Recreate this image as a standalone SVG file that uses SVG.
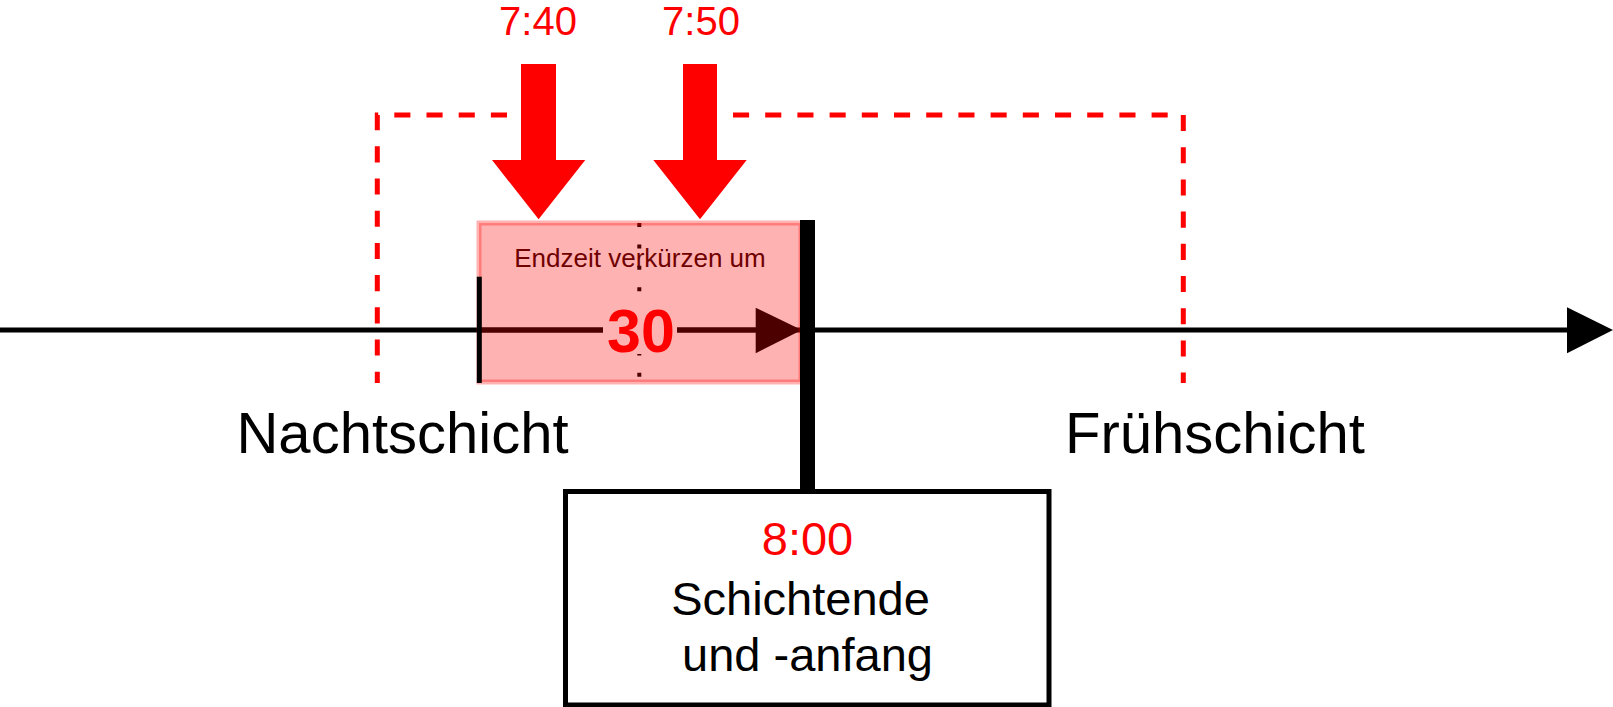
<svg xmlns="http://www.w3.org/2000/svg" width="1613" height="707" viewBox="0 0 1613 707">
<style>
  text { font-family: "Liberation Sans", Arial, sans-serif; }
  .dash { fill: none; stroke: #ff0000; stroke-width: 5; stroke-dasharray: 16.1 16.1; }
  .red { fill: #ff0000; }
  .blk { fill: #000000; }
  .ln { stroke: #000000; stroke-width: 5; fill: none; }
</style>
<rect width="1613" height="707" fill="#ffffff"/>
<g id="connectors">
  <line class="ln" x1="0" y1="330" x2="1569" y2="330"/>
  <polygon class="blk" points="1567,307.3 1613,330 1567,353.3"/>
</g>
<g id="bracket">
  <path class="dash" d="M507,115 H377.3 V383"/>
  <path class="dash" d="M1167.7,115 H733"/>
  <path class="dash" d="M1183.3,115 V383"/>
</g>
<g id="arrow-740">
  <text x="538" y="35" font-size="40" text-anchor="middle" class="red">7:40</text>
  <polygon class="red" points="521,64 556,64 556,160 585.3,160 538.6,219.3 492,160 521,160"/>
</g>
<g id="arrow-750">
  <text x="701" y="35" font-size="40" text-anchor="middle" class="red">7:50</text>
  <polygon class="red" points="683,64 717,64 717,160 746.7,160 700,219.3 653.3,160 683,160"/>
</g>
<g id="shorten">
  <line class="ln" x1="479" y1="330" x2="758" y2="330"/>
  <polygon class="blk" points="755.7,307.7 801.7,330 755.7,353.3"/>
  <text x="640" y="266.7" font-size="26" text-anchor="middle" fill="#300000">Endzeit verkürzen um</text>
  <line x1="639.3" y1="223" x2="639.3" y2="378" stroke="#000" stroke-width="4" stroke-dasharray="4 17.4"/>
  <rect x="603" y="306" width="74" height="48" fill="#ffffff"/>
  <text x="641" y="351.7" font-size="61" font-weight="bold" text-anchor="middle" class="red">30</text>
  <rect x="479" y="223" width="322" height="159" fill="#ff0000" fill-opacity="0.3" stroke="#ff0000" stroke-opacity="0.3" stroke-width="5"/>
  <line class="ln" x1="479.3" y1="276.7" x2="479.3" y2="383"/>
</g>
<g id="bar">
  <rect x="800" y="220" width="15" height="272" class="blk"/>
</g>
<g id="label-nacht">
  <text x="402.5" y="453" font-size="58" text-anchor="middle" class="blk">Nachtschicht</text>
</g>
<g id="label-frueh">
  <text x="1215" y="453" font-size="58" text-anchor="middle" class="blk">Frühschicht</text>
</g>
<g id="box">
  <rect x="565.5" y="491.5" width="483.5" height="213.5" fill="#ffffff" stroke="#000000" stroke-width="5"/>
  <text x="807.5" y="555" font-size="47" text-anchor="middle" class="red">8:00</text>
  <text x="800.5" y="615" font-size="47" text-anchor="middle" class="blk">Schichtende</text>
  <text x="807.5" y="671" font-size="47" text-anchor="middle" class="blk">und -anfang</text>
</g>
</svg>
